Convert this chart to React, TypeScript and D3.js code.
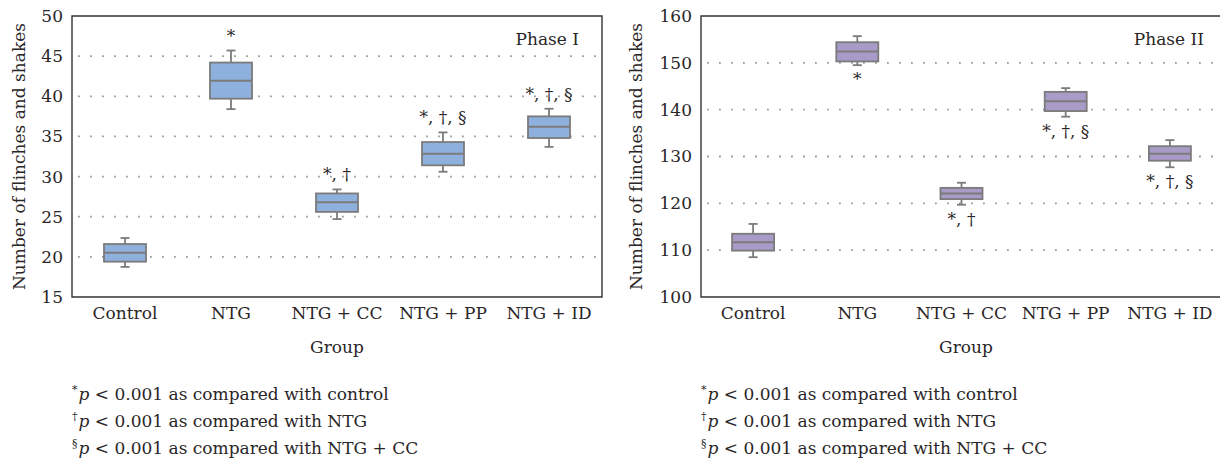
import { useEffect, useRef } from "react";
import * as d3 from "d3";

const groups = ["Control", "NTG", "NTG + CC", "NTG + PP", "NTG + ID"];

// Phase I
const p1Min = [18.75, 38.4, 24.7, 30.6, 33.7];
const p1Q1 = [19.4, 39.7, 25.6, 31.4, 34.8];
const p1Median = [20.5, 41.95, 26.8, 32.85, 36.2];
const p1Q3 = [21.6, 44.2, 27.9, 34.3, 37.5];
const p1Max = [22.35, 45.7, 28.4, 35.5, 38.45];
const p1Ticks = [15, 20, 25, 30, 35, 40, 45, 50];

// Phase II
const p2Min = [108.5, 149.5, 119.7, 138.5, 127.7];
const p2Q1 = [109.9, 150.3, 120.9, 139.7, 129.1];
const p2Median = [111.7, 152.4, 122.1, 141.8, 130.6];
const p2Q3 = [113.5, 154.4, 123.3, 143.8, 132.2];
const p2Max = [115.6, 155.7, 124.4, 144.6, 133.5];
const p2Ticks = [100, 110, 120, 130, 140, 150, 160];

const marks = ["", "*", "*, \u2020", "*, \u2020, \u00a7", "*, \u2020, \u00a7"];
const footnotes = [
  ["*", "as compared with control"],
  ["\u2020", "as compared with NTG"],
  ["\u00a7", "as compared with NTG + CC"],
];

const FONT = "'DejaVu Serif', 'Liberation Serif', serif";
const TEXT = "#2a2627";
const FS = 17;

export default function App() {
  const svgRef = useRef(null);

  useEffect(() => {
    document.body.style.margin = "0";
    const svg = d3.select(svgRef.current);
    svg.selectAll("*").remove();

    const panels = [
      {
        x0: 72, x1: 602, right: true, domain: [15, 50], ticks: p1Ticks,
        min: p1Min, q1: p1Q1, med: p1Median, q3: p1Q3, max: p1Max,
        fill: "#8db0dd", title: "Phase I", titleX: 579, labelX: 25, below: false,
      },
      {
        x0: 701, x1: 1222, right: false, domain: [100, 160], ticks: p2Ticks,
        min: p2Min, q1: p2Q1, med: p2Median, q3: p2Q3, max: p2Max,
        fill: "#a99bc7", title: "Phase II", titleX: 1204, labelX: 642, below: true,
      },
    ];
    const top = 16, bottom = 297;

    panels.forEach(p => {
      const g = svg.append("g").attr("font-family", FONT).attr("fill", TEXT);
      const x = d3.scaleBand().domain(groups).range([p.x0, p.x1]);
      const y = d3.scaleLinear().domain(p.domain).range([bottom, top]);

      // dotted grid
      g.selectAll(".grid")
        .data(p.ticks.slice(1, -1))
        .enter()
        .append("line")
        .attr("x1", p.x0 + 6)
        .attr("x2", p.x1)
        .attr("y1", d => y(d))
        .attr("y2", d => y(d))
        .attr("stroke", "#9a9a9a")
        .attr("stroke-width", 1.8)
        .attr("stroke-dasharray", "1.8,10.2");

      // frame
      g.append("path")
        .attr("d", p.right
          ? `M${p.x0},${top}H${p.x1}V${bottom}H${p.x0}Z`
          : `M${p.x1},${top}H${p.x0}V${bottom}H${p.x1}`)
        .attr("fill", "none")
        .attr("stroke", "#333")
        .attr("stroke-width", 1.4);

      // y tick labels
      g.selectAll(".yt")
        .data(p.ticks)
        .enter()
        .append("text")
        .attr("x", p.x0 - 9)
        .attr("y", d => y(d))
        .attr("dy", "0.35em")
        .attr("text-anchor", "end")
        .attr("font-size", FS)
        .text(d => d);

      // x tick labels
      g.selectAll(".xt")
        .data(groups)
        .enter()
        .append("text")
        .attr("x", d => x(d) + x.bandwidth() / 2)
        .attr("y", 319)
        .attr("text-anchor", "middle")
        .attr("font-size", FS)
        .text(d => d);

      g.append("text")
        .attr("x", (p.x0 + p.x0 + 530) / 2)
        .attr("y", 353)
        .attr("text-anchor", "middle")
        .attr("font-size", FS)
        .text("Group");

      const cy = (top + bottom) / 2;
      g.append("text")
        .attr("transform", `translate(${p.labelX},${cy}) rotate(-90)`)
        .attr("text-anchor", "middle")
        .attr("font-size", FS)
        .text("Number of flinches and shakes");

      g.append("text")
        .attr("x", p.titleX)
        .attr("y", 45)
        .attr("text-anchor", "end")
        .attr("font-size", FS)
        .text(p.title);

      // boxes
      const bw = 42, cap = 9;
      const boxes = g.selectAll(".box")
        .data(groups)
        .enter()
        .append("g")
        .attr("transform", d => `translate(${x(d) + x.bandwidth() / 2},0)`);

      boxes.append("line")
        .attr("y1", (d, i) => y(p.max[i]))
        .attr("y2", (d, i) => y(p.min[i]))
        .attr("stroke", "#7b7b7b")
        .attr("stroke-width", 1.8);
      [p.max, p.min].forEach(arr => {
        boxes.append("line")
          .attr("x1", -cap / 2)
          .attr("x2", cap / 2)
          .attr("y1", (d, i) => y(arr[i]))
          .attr("y2", (d, i) => y(arr[i]))
          .attr("stroke", "#7b7b7b")
          .attr("stroke-width", 1.8);
      });
      boxes.append("rect")
        .attr("x", -bw / 2)
        .attr("width", bw)
        .attr("y", (d, i) => y(p.q3[i]))
        .attr("height", (d, i) => y(p.q1[i]) - y(p.q3[i]))
        .attr("fill", p.fill)
        .attr("stroke", "#7b7b7b")
        .attr("stroke-width", 1.8);
      boxes.append("line")
        .attr("x1", -bw / 2)
        .attr("x2", bw / 2)
        .attr("y1", (d, i) => y(p.med[i]))
        .attr("y2", (d, i) => y(p.med[i]))
        .attr("stroke", "#7b7b7b")
        .attr("stroke-width", 2);

      boxes.append("text")
        .attr("text-anchor", "middle")
        .attr("font-size", FS)
        .attr("y", (d, i) => p.below ? y(p.min[i]) + 20 : y(p.max[i]) - 9)
        .text((d, i) => marks[i]);

      // footnotes
      footnotes.forEach(([sym, txt], i) => {
        const t = g.append("text")
          .attr("x", p.x0)
          .attr("y", 400 + i * 27)
          .attr("font-size", FS);
        t.append("tspan").attr("font-size", 11).attr("dy", -7).text(sym);
        t.append("tspan").attr("dy", 7).attr("dx", 1).attr("font-style", "italic").text("p");
        t.append("tspan").text(` < 0.001 ${txt}`);
      });
    });
  }, []);

  return <svg ref={svgRef} width={1220} height={468} style={{ display: "block", background: "#fff" }} />;
}
